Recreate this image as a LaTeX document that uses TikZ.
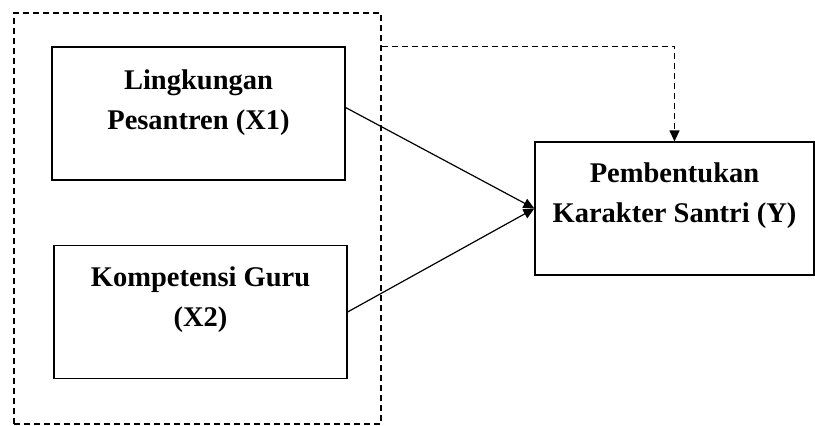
\documentclass[tikz,border=0pt]{standalone}
\usepackage{fontspec}
\setmainfont{Liberation Serif}
\usepackage{tikz}
\usetikzlibrary{arrows.meta, positioning, calc}

\begin{document}
\begin{tikzpicture}[
    x=1pt, y=-1pt,
    varbox/.style={draw, line width=1.2pt, minimum width=293pt, minimum height=133pt, inner sep=0pt},
    vartext/.style={align=center, font=\fontsize{28.5}{40}\selectfont\bfseries},
    groupbox/.style={draw, dash pattern=on 6pt off 4pt, line width=1.1pt, minimum width=367pt, minimum height=411pt, inner sep=0pt},
    arrow/.style={-{Triangle[length=11pt, width=10pt]}, line width=1.2pt},
    dasharrow/.style={-{Triangle[length=11pt, width=10pt]}, line width=1.2pt, dash pattern=on 6pt off 4pt}
]
    \useasboundingbox (0,0) rectangle (815,426);

    \node[groupbox] (group) at (197.5,218.5) {};
    \node[varbox] (x1) at (198.5,113.5) {};
    \node[varbox] (x2) at (200.5,312) {};
    \node[varbox, minimum width=279pt] (y) at (674.5,208.5) {};

    \node[vartext] (x1text) at ([yshift=11pt]x1.center) {Lingkungan\\Pesantren (X1)};
    \node[vartext] (x2text) at ([yshift=12pt]x2.center) {Kompetensi Guru\\(X2)};
    \node[vartext] (ytext) at ([yshift=13pt]y.center) {Pembentukan\\Karakter Santri (Y)};

    \draw[arrow] ([yshift=6pt]x1.east) -- (y.west);
    \draw[arrow] (x2.east) -- (y.west);
    \draw[dasharrow] (group.east |- x1.north) -| (y.north);
\end{tikzpicture}
\end{document}
